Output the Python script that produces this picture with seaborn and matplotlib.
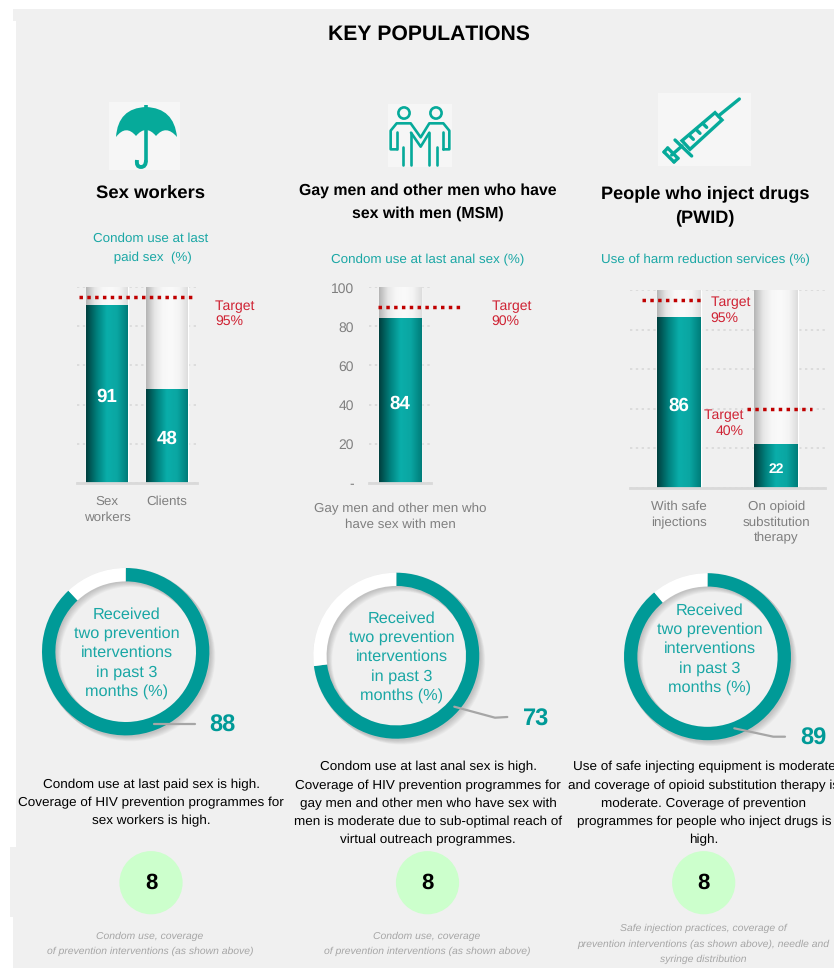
import numpy as np
import seaborn as sns
import matplotlib
matplotlib.use("Agg")
import matplotlib.pyplot as plt
from matplotlib.colors import LinearSegmentedColormap
from matplotlib.patches import Rectangle, Circle, Wedge, PathPatch, Polygon
from matplotlib.path import Path

# values
sw_cats = ["Sex\nworkers", "Clients"]
sw_vals = [91, 48]
sw_targets = [95]
msm_cats = ["Gay men and other men who\nhave sex with men"]
msm_vals = [84]
msm_targets = [90]
pwid_cats = ["With safe\ninjections", "On opioid\nsubstitution\ntherapy"]
pwid_vals = [86, 22]
pwid_targets = [95, 40]
full_bar = 100
donut_vals = [88, 73, 89]
scores = [8, 8, 8]

W, H = 834, 968
GREY = "#f0f0f0"
TEAL = "#009a97"
TEXT_TEAL = "#1aa7a5"
ICON = "#06aa9a"
RED = "#c00000"
RED_TXT = "#cf2233"
LABEL = "#7f7f7f"

sns.set_theme(style="white")
plt.rcParams["font.family"] = ["Liberation Sans", "DejaVu Sans"]
plt.rcParams["text.hinting"] = "no_hinting"
plt.rcParams["text.kerning_factor"] = 6

fig = plt.figure(figsize=(W / 100, H / 100), dpi=100, facecolor="white")


def px_axes(x0, y0, x1, y1, z=1):
    ax = fig.add_axes([x0 / W, 1 - y1 / H, (x1 - x0) / W, (y1 - y0) / H], zorder=z)
    ax.patch.set_alpha(0)
    return ax


def page_axes(z):
    ax = px_axes(0, 0, W, H, z)
    ax.set_xlim(0, W)
    ax.set_ylim(H, 0)
    ax.axis("off")
    return ax


pg = page_axes(0)
top = page_axes(5)

# grey panels, the lower one covers the bottom of the long statements
pg.add_patch(Rectangle((13, 9), W, 12, fc=GREY, lw=0, zorder=0))
pg.add_patch(Rectangle((16, 20), W, 830, fc=GREY, lw=0, zorder=0))
pg.add_patch(Rectangle((10, 847), W, 70, fc=GREY, lw=0, zorder=3))
pg.add_patch(Rectangle((13, 917), W, 60, fc=GREY, lw=0, zorder=3))

bar_cmap = LinearSegmentedColormap.from_list("b", ["#00403f", "#007f7c", "#0aaeaa", "#0aa6a2", "#007d7a"])
bg_cmap = LinearSegmentedColormap.from_list("g", ["#b5b5b5", "#e6e6e6", "#f7f7f7", "#fafafa", "#f4f4f4", "#dddddd"])
grad = np.linspace(0, 1, 64).reshape(1, -1)


def shade(ax, bars, cmap):
    for p in bars:
        ax.imshow(grad, cmap=cmap, aspect="auto", zorder=2,
                  extent=[p.get_x(), p.get_x() + p.get_width(), 0, p.get_height()])


def bar_chart(box, cats, vals, width, pad, lab_size=13.5):
    ax = px_axes(*box)
    sns.barplot(x=cats, y=[full_bar] * len(cats), color="#f7f7f7", width=width, ax=ax, zorder=2)
    sns.barplot(x=cats, y=vals, color=TEAL, width=width, ax=ax, zorder=2)
    shade(ax, ax.containers[0], bg_cmap)
    shade(ax, ax.containers[1], bar_cmap)
    labs = ax.bar_label(ax.containers[1], label_type="center", color="white", fontweight="bold",
                        fontsize=lab_size, zorder=6)
    for lab in labs:
        lab.xyann = (0, -2.5)
    ax.set_xlim(-0.5, len(cats) - 0.5)
    ax.set_ylim(0, full_bar)
    ax.set_yticks([0, 20, 40, 60, 80, 100])
    ax.set_yticklabels([])
    ax.set_axisbelow(True)
    ax.yaxis.grid(True, color="#dcdcdc", lw=1.4, linestyle=(0, (1.2, 1.8)))
    ax.xaxis.grid(False)
    sns.despine(ax=ax, left=True)
    ax.spines["bottom"].set_color("#d9d9d9")
    ax.spines["bottom"].set_linewidth(2)
    ax.tick_params(axis="both", length=0)
    ax.tick_params(axis="x", labelsize=9.6, labelcolor=LABEL, pad=pad)
    for lab in ax.get_xticklabels():
        lab.set_linespacing(1.38)
    ax.set_xlabel("")
    ax.set_ylabel("")
    return ax


def target_line(ax, value, x0, x1):
    # x given in page pixels, y in data units
    tr = matplotlib.transforms.blended_transform_factory(pg.transData, ax.transData)
    ax.plot([x0, x1], [value, value], transform=tr, color=RED, lw=2.5, clip_on=False, zorder=7,
            linestyle=(0, (1.0, 1.25)), dash_capstyle="butt")


ax1 = bar_chart((77, 287.3, 197, 482.7), sw_cats, sw_vals, 0.7, 9.5)
target_line(ax1, sw_targets[0], 79, 194)
ax2 = bar_chart((369, 287.3, 431, 482.7), msm_cats, msm_vals, 0.69, 14.5)
ax2.set_yticklabels(["-", "20", "40", "60", "80", "100"], fontsize=10, color=LABEL)
ax2.tick_params(axis="y", pad=11)
target_line(ax2, msm_targets[0], 378, 461)
ax3 = bar_chart((630, 290, 825, 487.7), pwid_cats, pwid_vals, 0.45, 9.5)
for bar_lab in ax3.texts[1:]:
    bar_lab.set_fontsize(10)
target_line(ax3, pwid_targets[0], 642, 702)
target_line(ax3, pwid_targets[1], 747, 812)

# donuts
donut_boxes = [(125.7, 651.7, 83.7), (396.3, 655.7, 83), (707.5, 656.7, 83.5)]
for (cx, cy, r), v in zip(donut_boxes, donut_vals):
    for k in range(1, 8):
        pg.add_patch(Wedge((cx + k * 0.7, cy + k * 0.7), r + 1, 0, 360, width=15, fc="black", alpha=0.028, lw=0, zorder=1))
    dax = px_axes(cx - r, cy - r, cx + r, cy + r, 2)
    dax.pie([v, 100 - v], colors=[TEAL, "white"], startangle=90, counterclock=False, radius=1,
            wedgeprops={"width": 0.16, "linewidth": 0})
    dax.set_xlim(-1, 1)
    dax.set_ylim(-1, 1)

donut_text = "Received\ntwo prevention\ninterventions\nin past 3\nmonths (%)"
for x, y in [(127, 653), (401.7, 657), (710, 649)]:
    top.text(x, y, donut_text, ha="center", va="center", color=TEXT_TEAL, fontsize=11.7, linespacing=1.38)

leaders = [[(154.3, 723.7), (195, 723.7)],
           [(454.3, 706.7), (495, 717.7), (507.3, 717)],
           [(734.3, 728.3), (773.3, 736.7), (785, 736.7)]]
for pts in leaders:
    xs, ys = zip(*pts)
    top.plot(xs, ys, color="#a6a6a6", lw=1.6)
for (x, y), v in zip([(222.7, 726), (535.7, 720), (813.3, 739)], donut_vals):
    top.text(x, y, str(v), ha="center", va="center", color=TEAL, fontsize=17, fontweight="bold")

# headings
top.text(429, 34, "KEY POPULATIONS", ha="center", va="center", fontsize=15.2, fontweight="bold", color="black")
top.text(151, 193, "Sex workers", ha="center", va="center", fontsize=13.3, fontweight="bold", color="black")
top.text(428, 202, "Gay men and other men who have\nsex with men (MSM)", ha="center", va="center",
         fontsize=11.4, fontweight="bold", color="black", linespacing=1.64)
top.text(705, 205.5, "People who inject drugs\n(PWID)", ha="center", va="center",
         fontsize=13.1, fontweight="bold", color="black", linespacing=1.57)

top.text(151, 248, "Condom use at last\n paid sex  (%)", ha="center", va="center", color=TEXT_TEAL, fontsize=9.6, linespacing=1.75)
top.text(428, 260, "Condom use at last anal sex (%)", ha="center", va="center", color=TEXT_TEAL, fontsize=9.6)
top.text(705, 260, "Use of harm reduction services (%)", ha="center", va="center", color=TEXT_TEAL, fontsize=9.6)

# target notes
for x, y, s, ha in [(215, 314, "Target\n95%", "left"), (491.7, 314, "Target\n90%", "left"),
                    (710.7, 310.5, "Target\n95%", "left"), (744, 423.5, "Target\n40%", "right")]:
    top.text(x, y, s, ha=ha, va="center", color=RED_TXT, fontsize=10.1, linespacing=1.22, multialignment="right" if ha == "right" else "left")

# statements
st = dict(ha="center", va="center", color="black", fontsize=9.7, linespacing=1.63, zorder=2)
pg.text(151, 802.5, "Condom use at last paid sex is high.\nCoverage of HIV prevention programmes for\nsex workers is high.", **st)
pg.text(428, 803.5, "Condom use at last anal sex is high.\nCoverage of HIV prevention programmes for\ngay men and other men who have sex with\nmen is moderate due to sub-optimal reach of\nvirtual outreach programmes.", **st)
pg.text(704, 803.5, "Use of safe injecting equipment is moderate\nand coverage of opioid substitution therapy is\nmoderate. Coverage of prevention\nprogrammes for people who inject drugs is\nhigh.", **st)

# score circles and notes
for x, s in zip([151, 427.5, 703.7], scores):
    pg.add_patch(Circle((x, 882.7), 31.6, fc="#ccffcc", lw=0, zorder=4))
    top.text(x, 883, str(s), ha="center", va="center", fontsize=16, fontweight="bold", color="black")

nt = dict(ha="center", va="center", color="#a6a6a6", fontsize=7.5, style="italic", linespacing=1.87)
top.text(150, 944, "Condom use, coverage\nof prevention interventions (as shown above)", **nt)
top.text(427, 944, "Condom use, coverage\nof prevention interventions (as shown above)", **nt)
top.text(703, 944, "Safe injection practices, coverage of\nprevention interventions (as shown above), needle and\nsyringe distribution", **nt)

# icon tiles
for x0, y0, x1, y1 in [(109, 102, 180, 170), (388, 104, 452, 167), (658, 93, 751, 166)]:
    pg.add_patch(Rectangle((x0, y0), x1 - x0, y1 - y0, fc="#f6f6f6", lw=0, zorder=1))

# umbrella
Q = Path.CURVE3
canopy = [(116, 137), (118, 108), (146, 107), (174, 108), (177, 137), (166, 124), (156, 136),
          (146, 124), (136, 136), (126, 124), (116, 137)]
codes = [Path.MOVETO, Q, Q, Q, Q, Q, Q, Q, Q, Q, Q]
pg.add_patch(PathPatch(Path(canopy, codes), fc=ICON, lw=0, zorder=2))
pg.plot([146, 146], [105, 160], color=ICON, lw=2.6, zorder=2, solid_capstyle="butt")
hook = Path([(146, 160), (146, 167), (141, 167), (136, 167), (137, 160)], [Path.MOVETO, Q, Q, Q, Q])
pg.add_patch(PathPatch(hook, fc="none", ec=ICON, lw=2.8, zorder=2))


# couple icon, coordinates from the zoomed crop
def zm(pts):
    return [(300 + a / 3, 90 + b / 3) for a, b in pts]


for c in [(404, 113), (436, 113)]:
    pg.add_patch(Circle(c, 5.6, fc="none", ec=ICON, lw=1.9, zorder=2))
outline = [[(290, 178), (272, 178), (272, 122), (290, 100), (332, 100), (362, 142), (388, 100), (430, 100), (448, 122), (448, 178), (430, 178)],
           [(292, 125), (292, 178)], [(428, 125), (428, 178)],
           [(333, 128), (362, 170), (388, 128)],
           [(310, 172), (310, 225)], [(333, 128), (333, 225)],
           [(388, 128), (388, 225)], [(410, 172), (410, 225)]]
for seg in outline:
    xs, ys = zip(*zm(seg))
    pg.plot(xs, ys, color=ICON, lw=1.9, zorder=2, solid_joinstyle="round")


# syringe icon
def zs(pts):
    return [(590 + a / 3, 90 + b / 3) for a, b in pts]


pg.add_patch(Polygon(zs([(375, 68), (396, 90), (300, 178), (276, 152)]), closed=True, fc="none", ec=ICON, lw=2.4, zorder=2))
for seg in [[(448, 27), (385, 78)], [(276, 168), (245, 195)], [(255, 150), (305, 198)],
            [(222, 186), (252, 216)], [(222, 186), (233, 174)], [(233, 174), (264, 205)], [(252, 216), (264, 205)],
            [(350, 112), (338, 100)], [(330, 130), (318, 118)], [(310, 148), (298, 136)]]:
    xs, ys = zip(*zs(seg))
    pg.plot(xs, ys, color=ICON, lw=2.4, zorder=2)

fig.savefig("out.png", dpi=100, facecolor="white")
